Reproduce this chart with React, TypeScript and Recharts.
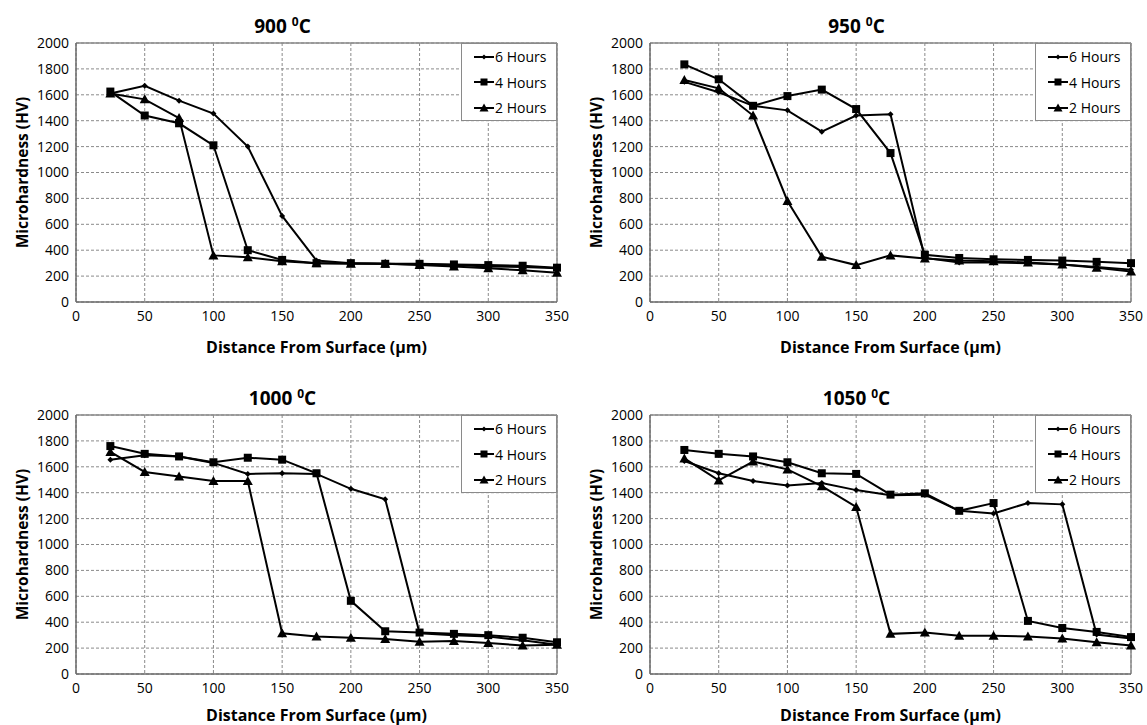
import {
  CartesianGrid,
  Legend,
  Line,
  LineChart,
  ReferenceLine,
  XAxis,
  YAxis,
} from "recharts";

const distance = [25, 50, 75, 100, 125, 150, 175, 200, 225, 250, 275, 300, 325, 350];
const xTicks = [0, 50, 100, 150, 200, 250, 300, 350];
const yTicks = [0, 200, 400, 600, 800, 1000, 1200, 1400, 1600, 1800, 2000];
const seriesNames = ["6 Hours", "4 Hours", "2 Hours"];

const t900h6 = [1610, 1670, 1555, 1455, 1200, 665, 320, 300, 295, 290, 285, 275, 270, 260];
const t900h4 = [1625, 1440, 1380, 1210, 400, 325, 300, 300, 295, 295, 290, 285, 280, 265];
const t900h2 = [1610, 1565, 1420, 360, 345, 315, 300, 295, 295, 285, 275, 260, 245, 225];

const t950h6 = [1700, 1620, 1515, 1480, 1315, 1440, 1450, 340, 305, 305, 300, 290, 270, 250];
const t950h4 = [1835, 1720, 1515, 1590, 1640, 1490, 1150, 365, 340, 330, 325, 320, 310, 300];
const t950h2 = [1715, 1650, 1440, 780, 350, 285, 360, 335, 320, 315, 305, 290, 265, 235];

const t1000h6 = [1655, 1690, 1680, 1630, 1545, 1550, 1545, 1430, 1350, 315, 300, 290, 260, 225];
const t1000h4 = [1760, 1700, 1680, 1635, 1670, 1655, 1550, 565, 330, 320, 310, 300, 280, 245];
const t1000h2 = [1715, 1560, 1525, 1490, 1490, 315, 290, 280, 270, 250, 255, 240, 220, 225];

const t1050h6 = [1645, 1550, 1490, 1455, 1475, 1420, 1380, 1385, 1260, 1240, 1320, 1310, 305, 275];
const t1050h4 = [1730, 1700, 1680, 1635, 1550, 1545, 1385, 1395, 1260, 1320, 410, 355, 325, 285];
const t1050h2 = [1665, 1495, 1640, 1580, 1450, 1290, 310, 320, 295, 295, 290, 275, 245, 220];

const FONT = "'Open Sans', 'DejaVu Sans', sans-serif";
const shapes = ["diamond", "square", "triangle"];

function Marker({ cx, cy, shape, size }: { cx?: number; cy?: number; shape: string; size: number }) {
  if (cx == null || cy == null) return null;
  const h = size / 2;
  if (shape === "square") {
    return <rect x={cx - h} y={cy - h} width={size} height={size} fill="#000" />;
  }
  if (shape === "diamond") {
    return <polygon points={`${cx},${cy - h} ${cx + h},${cy} ${cx},${cy + h} ${cx - h},${cy}`} fill="#000" />;
  }
  return <polygon points={`${cx},${cy - h - 1} ${cx + h + 1},${cy + h} ${cx - h - 1},${cy + h}`} fill="#000" />;
}

function LegendBox({ payload }: any) {
  const items = [...(payload || [])].sort(
    (a: any, b: any) => seriesNames.indexOf(a.value) - seriesNames.indexOf(b.value)
  );
  return (
    <div style={{ fontFamily: FONT, fontSize: 14, color: "#000" }}>
      {items.map((p: any) => {
        const i = seriesNames.indexOf(p.value);
        return (
          <div key={p.value} style={{ display: "flex", alignItems: "center", height: 25.5, paddingLeft: 12 }}>
            <svg width={20} height={12} style={{ marginRight: 1 }}>
              <line x1={0} y1={6} x2={20} y2={6} stroke="#000" strokeWidth={2} />
              <Marker cx={10} cy={6} shape={shapes[i]} size={i === 0 ? 5 : 7} />
            </svg>
            <span>{p.value}</span>
          </div>
        );
      })}
    </div>
  );
}

function Panel({
  temp,
  h6,
  h4,
  h2,
  left,
  top,
  labelOffset,
}: {
  temp: string;
  h6: number[];
  h4: number[];
  h2: number[];
  left: number;
  top: number;
  labelOffset: number;
}) {
  const data = distance.map((d, i) => ({ d, h6: h6[i], h4: h4[i], h2: h2[i] }));
  const keys = ["h6", "h4", "h2"];
  const sizes = [6, 8, 8];
  return (
    <div style={{ position: "absolute", left, top, width: 575, height: 360 }}>
      <div
        style={{
          position: "absolute",
          left: 0,
          width: 565,
          top: 10,
          textAlign: "center",
          fontFamily: FONT,
          fontWeight: 700,
          fontSize: 19,
          lineHeight: "24px",
          zIndex: 2,
        }}
      >
        {temp} <sup style={{ fontSize: 12, verticalAlign: 7 }}>0</sup>C
      </div>
      <LineChart width={575} height={360} data={data} margin={{ top: 43, right: 18, left: 0, bottom: 0 }}>
        <CartesianGrid stroke="#8a8a8a" strokeDasharray="3 2" horizontalValues={yTicks} verticalValues={xTicks} />
        <XAxis
          dataKey="d"
          type="number"
          domain={[0, 350]}
          ticks={xTicks}
          height={58}
          tickSize={0}
          tickMargin={9}
          axisLine={{ stroke: "#6a6a6a", strokeWidth: 1.5 }}
          tick={{ fill: "#000", fontSize: 14, fontFamily: FONT }}
          label={{
            value: "Distance From Surface (μm)",
            position: "insideBottom",
            offset: labelOffset,
            style: { fontFamily: FONT, fontWeight: 700, fontSize: 16, fill: "#000" },
          }}
        />
        <YAxis
          type="number"
          domain={[0, 2000]}
          ticks={yTicks}
          width={76}
          tickSize={0}
          tickMargin={7}
          axisLine={{ stroke: "#6a6a6a", strokeWidth: 1.5 }}
          tick={{ fill: "#000", fontSize: 14, fontFamily: FONT }}
          label={{
            value: "Microhardness (HV)",
            position: "insideLeft",
            angle: -90,
            offset: 22,
            style: { textAnchor: "middle", fontFamily: FONT, fontWeight: 700, fontSize: 15.5, fill: "#000" },
          }}
        />
        <ReferenceLine y={2000} stroke="#8a8a8a" strokeWidth={1.5} />
        <ReferenceLine x={350} stroke="#8a8a8a" strokeWidth={1.5} />
        <Legend
          layout="vertical"
          align="center"
          verticalAlign="middle"
          content={<LegendBox />}
          wrapperStyle={{
            left: 461,
            top: 43,
            width: 96,
            height: 78,
            border: "1.5px solid #8a8a8a",
            background: "#fff",
            boxSizing: "border-box",
          }}
        />
        {keys.map((k, i) => (
          <Line
            key={k}
            dataKey={k}
            name={seriesNames[i]}
            stroke="#000"
            strokeWidth={2}
            isAnimationActive={false}
            activeDot={false}
            dot={(p: any) => <Marker key={`${k}-${p.index}`} cx={p.cx} cy={p.cy} shape={shapes[i]} size={sizes[i]} />}
          />
        ))}
      </LineChart>
    </div>
  );
}

export default function App() {
  return (
    <div style={{ position: "absolute", left: 0, top: 0, width: 1147, height: 725, background: "#fff", overflow: "hidden" }}>
      <Panel temp="900" h6={t900h6} h4={t900h4} h2={t900h2} left={0} top={0} labelOffset={7} />
      <Panel temp="950" h6={t950h6} h4={t950h4} h2={t950h2} left={574} top={0} labelOffset={7} />
      <Panel temp="1000" h6={t1000h6} h4={t1000h4} h2={t1000h2} left={0} top={372} labelOffset={11} />
      <Panel temp="1050" h6={t1050h6} h4={t1050h4} h2={t1050h2} left={574} top={372} labelOffset={11} />
    </div>
  );
}
